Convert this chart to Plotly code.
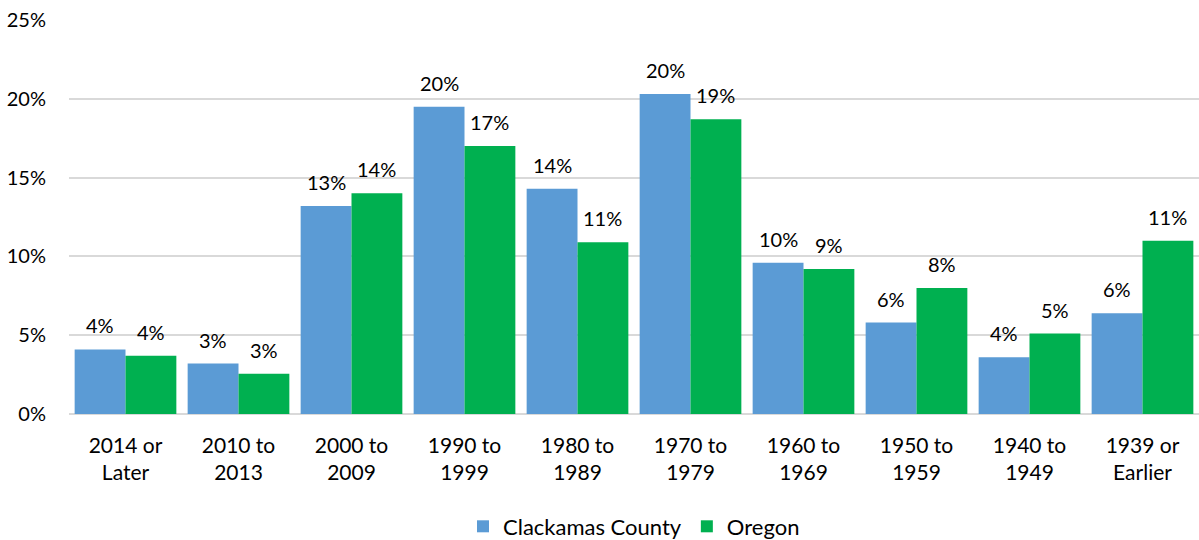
import plotly.graph_objects as go

# year built categories
categories = ["2014 or<br>Later", "2010 to<br>2013", "2000 to<br>2009", "1990 to<br>1999",
              "1980 to<br>1989", "1970 to<br>1979", "1960 to<br>1969", "1950 to<br>1959",
              "1940 to<br>1949", "1939 or<br>Earlier"]

clackamas = [0.041, 0.032, 0.132, 0.195, 0.143, 0.203, 0.096, 0.058, 0.036, 0.064]
oregon = [0.037, 0.0255, 0.140, 0.170, 0.109, 0.187, 0.092, 0.080, 0.051, 0.110]

y_ticks = [0, 0.05, 0.10, 0.15, 0.20, 0.25]

font_name = "Lato, Open Sans, sans-serif"
W, H = 1199, 540
L, R, T, B = 69, 0, 20, 126
bargap = 0.1

fig = go.Figure()
fig.add_trace(go.Bar(x=categories, y=clackamas, name="Clackamas County",
                     marker=dict(color="#5B9BD5", line=dict(width=0))))
fig.add_trace(go.Bar(x=categories, y=oregon, name="Oregon",
                     marker=dict(color="#00B050", line=dict(width=0))))

# data labels above each bar, offset to the bar centre within the group
bar_px = (W - L - R) / len(categories) * (1 - bargap) / 2
for vals, shift in [(clackamas, -bar_px / 2), (oregon, bar_px / 2)]:
    for cat, v in zip(categories, vals):
        fig.add_annotation(x=cat, y=v, text=f"{v:.0%}", showarrow=False,
                           xshift=shift, yshift=10, yanchor="bottom",
                           font=dict(size=20, color="#000000"))

fig.update_layout(
    width=W, height=H,
    barmode="group", bargap=bargap, bargroupgap=0,
    plot_bgcolor="white", paper_bgcolor="white",
    margin=dict(l=L, r=R, t=T, b=B),
    font=dict(family=font_name, size=20, color="#000000"),
    legend=dict(orientation="h", x=0.5, xanchor="center", yref="container", y=0.025,
                yanchor="middle", font=dict(size=22), itemwidth=30, traceorder="normal"),
    xaxis=dict(tickfont=dict(size=21), showline=False, ticks="", automargin=False,
               ticklabelstandoff=17),
    yaxis=dict(range=[0, 0.25], tickvals=y_ticks, tickformat=".0%",
               gridcolor="#D9D9D9", gridwidth=1.5, zeroline=True, zerolinecolor="#D9D9D9",
               zerolinewidth=1.5, tickfont=dict(size=20), ticks="", ticklabelstandoff=22,
               automargin=False),
)

# drop the default page margin so the figure sits at the window origin
fig.write_html("out.html", config={"displayModeBar": False},
               post_script="document.body.style.margin='0';document.body.style.overflow='hidden';")
